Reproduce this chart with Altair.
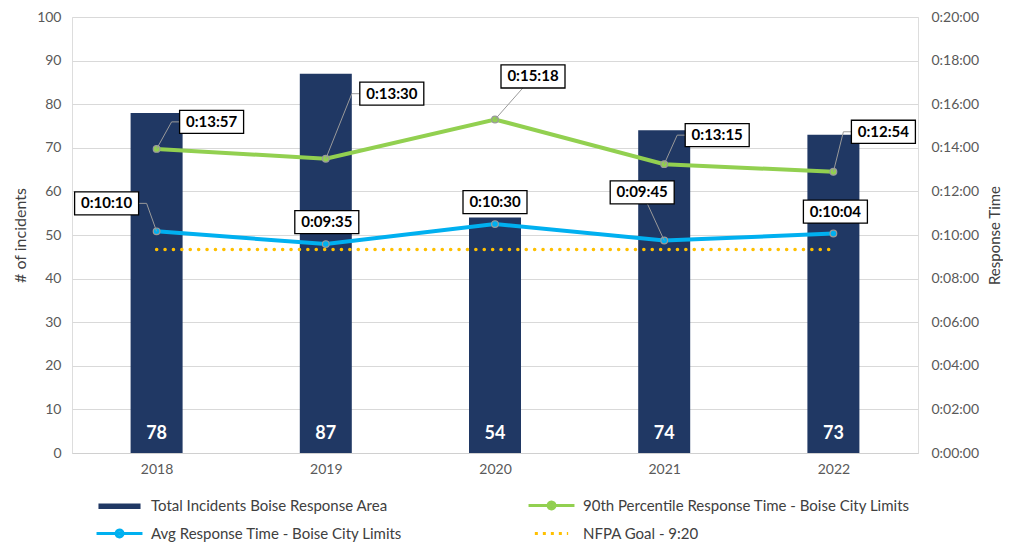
import altair as alt
import pandas as pd

# ---------------- data ----------------
years = [2018, 2019, 2020, 2021, 2022]
incidents = [78, 87, 54, 74, 73]
p90_times = ["0:13:57", "0:13:30", "0:15:18", "0:13:15", "0:12:54"]
avg_times = ["0:10:10", "0:09:35", "0:10:30", "0:09:45", "0:10:04"]
nfpa_goal = "0:09:20"

# callout placement (pixel offsets of label box from its point)
p90_label_dx = [55, 66, 38, 53, 50]
p90_label_dy = [-27, -65, -43, -29, -40]
avg_label_dx = [-50, 1, 0, -22, 2]
avg_label_dy = [-28, -22, -22, -48, -22]

S_BAR = "Total Incidents Boise Response Area"
S_P90 = "90th Percentile Response Time - Boise City Limits"
S_AVG = "Avg Response Time - Boise City Limits"
S_NFPA = "NFPA Goal -  9:20"
legend_order = [S_BAR, S_AVG, S_P90, S_NFPA]

NAVY = "#203864"
GREEN = "#92D050"
BLUE = "#00B0F0"
GOLD = "#FFC000"

W, H = 846, 436
TMAX = 1200
FONT = "Lato"


def to_sec(t):
    h, m, s = (int(v) for v in t.split(":"))
    return h * 3600 + m * 60 + s


PPY = W / 5.0        # pixels per year
SPP = TMAX / H       # seconds per pixel

bar_df = pd.DataFrame({"year": years, "incidents": incidents})

line_rows = []
for y, t in zip(years, p90_times):
    line_rows.append({"year": y, "sec": to_sec(t), "series": S_P90})
for y, t in zip(years, avg_times):
    line_rows.append({"year": y, "sec": to_sec(t), "series": S_AVG})
line_df = pd.DataFrame(line_rows)

nfpa_df = pd.DataFrame({"x0": [years[0]], "x1": [years[-1]], "sec": [to_sec(nfpa_goal)]})

label_rows = []
leader_rows = []
lid = 0
for times, dxs, dys in ((p90_times, p90_label_dx, p90_label_dy),
                        (avg_times, avg_label_dx, avg_label_dy)):
    for y, t, dx, dy in zip(years, times, dxs, dys):
        sec = to_sec(t)
        cx = y + dx / PPY
        cy = sec - dy * SPP
        label_rows.append({"lx": cx, "ly": cy, "label": t})
        if abs(dx) >= 45:
            sgn = 1 if dx > 0 else -1
            edge = cx - sgn * 32 / PPY
            elbow = edge - sgn * 8 / PPY
            pts = [(y, sec), (elbow, cy), (edge, cy)]
        elif abs(dx) > 10:
            pts = [(y, sec), (cx, cy)]
        else:
            pts = []
        for k, (px, py) in enumerate(pts):
            leader_rows.append({"lid": lid, "k": k, "px": px, "py": py})
        lid += 1
label_df = pd.DataFrame(label_rows)
leader_df = pd.DataFrame(leader_rows)

legend_df = pd.DataFrame({"series": legend_order})

# ---------------- scales / axes ----------------
x_scale = alt.Scale(domain=[2017.5, 2022.5], nice=False, zero=False, padding=0)
y_left_scale = alt.Scale(domain=[0, 100], nice=False)
y_right_scale = alt.Scale(domain=[0, TMAX], nice=False)

x_axis = alt.Axis(values=years, format="d", grid=False, ticks=False, tickSize=0,
                  labelPadding=9, domainColor="#d0d0d0", title=None,
                  labelFont=FONT, labelFontSize=14, labelColor="#595959")

left_axis = alt.Axis(values=list(range(0, 101, 10)), title="# of incidents",
                     grid=True, gridColor="#d9d9d9", ticks=False, tickSize=0,
                     domain=False, labelPadding=11, labelFont=FONT, labelFontSize=14,
                     labelColor="#595959", titleFont=FONT, titleFontSize=16,
                     titleFontWeight="normal", titleColor="#404040", titlePadding=8)

right_axis = alt.Axis(orient="right", values=list(range(0, TMAX + 1, 120)),
                      labelExpr="'0:' + (datum.value < 600 ? '0' : '') + floor(datum.value/60) + ':00'",
                      title="Response Time", titleAngle=270, titleBaseline="top",
                      grid=False, ticks=False,
                      tickSize=0, domain=False, labelPadding=13, labelFont=FONT,
                      labelFontSize=14, labelColor="#595959", titleFont=FONT,
                      titleFontSize=15, titleFontWeight="normal", titleColor="#404040",
                      titlePadding=9)


def XQ(field):
    return alt.X(field, scale=x_scale, axis=x_axis)


def YL(field):
    return alt.Y(field, scale=y_left_scale, axis=left_axis)


def YR(field):
    return alt.Y(field, scale=y_right_scale, axis=right_axis)


# ---------------- left group: bars ----------------
bars = alt.Chart(bar_df).mark_bar(size=52, color=NAVY).encode(
    x=XQ("year:Q"),
    y=YL("incidents:Q"),
)
bar_text = alt.Chart(bar_df).mark_text(
    color="white", font=FONT, fontWeight="bold", fontSize=18, baseline="middle", dy=-19
).encode(
    x=XQ("year:Q"),
    y=alt.datum(0, scale=y_left_scale, axis=left_axis),
    text=alt.Text("incidents:Q"),
)
left_group = alt.layer(bars, bar_text)

# ---------------- right group: times ----------------
nfpa = alt.Chart(nfpa_df).mark_rule(
    color=GOLD, strokeWidth=3.5, strokeDash=[0.1, 8.3], strokeCap="round"
).encode(
    x=XQ("x0:Q"),
    x2="x1:Q",
    y=YR("sec:Q"),
)

color_enc = alt.Color("series:N", scale=alt.Scale(domain=[S_P90, S_AVG], range=[GREEN, BLUE]),
                      legend=None)

lines = alt.Chart(line_df).mark_line(strokeWidth=4).encode(
    x=XQ("year:Q"), y=YR("sec:Q"), color=color_enc, detail="series:N",
)
points = alt.Chart(line_df).mark_point(
    filled=True, size=45, opacity=1, stroke="#9a9a9a", strokeWidth=1.2
).encode(
    x=XQ("year:Q"), y=YR("sec:Q"), color=color_enc,
)

leaders = alt.Chart(leader_df).mark_line(color="#9a9a9a", strokeWidth=1).encode(
    x=XQ("px:Q"),
    y=YR("py:Q"),
    detail="lid:N",
    order="k:Q",
)

BOX = "M-1,-0.36H1V0.36H-1Z"
boxes = alt.Chart(label_df).mark_point(
    shape=BOX, size=64 * 64, filled=True, fill="white", stroke="black",
    strokeWidth=1.3, opacity=1
).encode(
    x=XQ("lx:Q"),
    y=YR("ly:Q"),
)
box_text = alt.Chart(label_df).mark_text(
    font=FONT, fontWeight="bold", fontSize=15, color="black", baseline="middle"
).encode(
    x=XQ("lx:Q"),
    y=YR("ly:Q"),
    text="label:N",
)

# ---------------- legend (native legend, invisible carrier marks) ----------------
BAR_SYM = "M-3.4,-0.2H3.4V0.2H-3.4Z"
LINE_DOT_SYM = "M-4,0H4M0.6,0A0.6,0.6 0 1,1 -0.6,0A0.6,0.6 0 1,1 0.6,0Z"
DOT_SYM = "M-2.9,0H2.9"

sym_fill = {S_BAR: NAVY, S_P90: "#8bbf5a", S_AVG: "#5bbde0", S_NFPA: "transparent"}
sym_stroke = {S_BAR: NAVY, S_P90: GREEN, S_AVG: BLUE, S_NFPA: GOLD}
sym_shape = {S_BAR: BAR_SYM, S_P90: LINE_DOT_SYM, S_AVG: LINE_DOT_SYM, S_NFPA: DOT_SYM}
sym_dash = {S_BAR: [1, 0], S_P90: [1, 0], S_AVG: [1, 0], S_NFPA: [3, 5]}

leg_props = dict(
    title=None, orient="none", legendX=40, legendY=481, columns=2,
    columnPadding=119, rowPadding=9, symbolSize=132, symbolStrokeWidth=3,
    symbolOpacity=1, symbolFillColor="white", symbolStrokeColor="black",
    labelFont=FONT, labelFontSize=15, labelColor="#404040", labelOffset=24,
    labelLimit=500,
)

legend_layer = alt.Chart(legend_df).mark_point(size=0, filled=True, opacity=1).encode(
    fill=alt.Fill("series:N", scale=alt.Scale(domain=legend_order,
                                              range=[sym_fill[s] for s in legend_order]),
                  legend=alt.Legend(**leg_props)),
    stroke=alt.Stroke("series:N", scale=alt.Scale(domain=legend_order,
                                                  range=[sym_stroke[s] for s in legend_order]),
                      legend=alt.Legend(**leg_props)),
    shape=alt.Shape("series:N", scale=alt.Scale(domain=legend_order,
                                                range=[sym_shape[s] for s in legend_order]),
                    legend=alt.Legend(**leg_props)),
    strokeDash=alt.StrokeDash("series:N", scale=alt.Scale(domain=legend_order,
                                                          range=[sym_dash[s] for s in legend_order]),
                              legend=alt.Legend(**leg_props)),
)

right_group = alt.layer(nfpa, lines, points, leaders, boxes, box_text, legend_layer)

chart = alt.layer(left_group, right_group).resolve_scale(y="independent").properties(
    width=W, height=H, padding={"left": 4, "top": 2, "right": 0, "bottom": 0}
).configure_view(strokeWidth=0).configure(background="white")

chart.save("out.html", embed_options={"renderer": "svg", "actions": False})
